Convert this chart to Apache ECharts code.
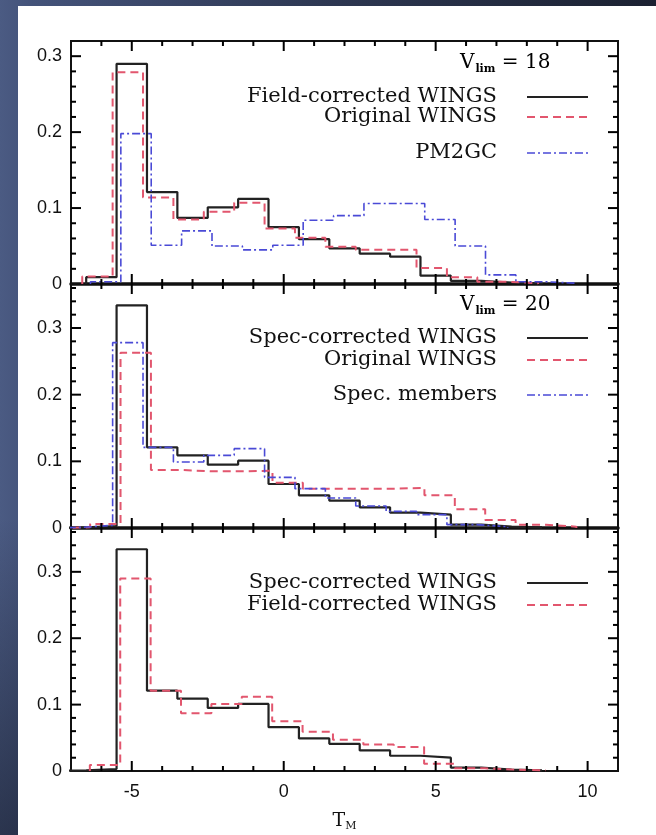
<!DOCTYPE html>
<html>
<head>
<meta charset="utf-8">
<script src="https://cdn.jsdelivr.net/npm/echarts@6/dist/echarts.min.js"></script>
<style>
  html, body { margin: 0; padding: 0; width: 656px; height: 835px; overflow: hidden; }
  body {
    background:
      linear-gradient(to bottom, rgba(0,0,0,0) 0%, rgba(0,0,0,0) 62%, rgba(16,21,34,0.55) 100%),
      linear-gradient(to right, #4b5b83 0px, #44537a 30px, #2e3853 320px, #1b2131 656px);
  }
  #sheet { position: absolute; left: 18px; top: 6px; right: 0; bottom: 0; background: #ffffff; }
  #chart { position: absolute; left: 0; top: 0; width: 656px; height: 835px; }
</style>
</head>
<body>
<div id="sheet"></div>
<div id="chart"></div>
<script>
// Morphological type T_M, one bin per integer type
const binCentres = [-7, -6, -5, -4, -3, -2, -1, 0, 1, 2, 3, 4, 5, 6, 7, 8, 9, 10];

// Fractions of galaxies per T_M bin
const fieldCorrected = [0, 0.009, 0.290, 0.121, 0.087, 0.101, 0.112, 0.075, 0.059, 0.047, 0.040, 0.036, 0.011, 0.004, 0.002, 0.001, 0, 0];
const originalV18    = [0, 0.010, 0.279, 0.114, 0.085, 0.095, 0.107, 0.073, 0.061, 0.049, 0.045, 0.045, 0.021, 0.009, 0.003, 0.001, 0, 0];
const pm2gc          = [0, 0.003, 0.198, 0.051, 0.070, 0.050, 0.045, 0.051, 0.084, 0.090, 0.106, 0.106, 0.085, 0.050, 0.012, 0.003, 0.001, 0];
const specCorrected  = [0.001, 0.003, 0.334, 0.121, 0.109, 0.095, 0.101, 0.066, 0.049, 0.041, 0.031, 0.023, 0.020, 0.005, 0.002, 0.001, 0, 0];
const originalV20    = [0.001, 0.006, 0.263, 0.087, 0.085, 0.085, 0.086, 0.068, 0.059, 0.059, 0.059, 0.060, 0.049, 0.028, 0.012, 0.005, 0.002, 0];
const specMembers    = [0.001, 0.004, 0.278, 0.121, 0.099, 0.109, 0.119, 0.076, 0.059, 0.045, 0.033, 0.025, 0.020, 0.005, 0.002, 0, 0, 0];

// Tick labels
const xTickLabels = [-5, 0, 5, 10];
const yTickLabels = [0, 0.1, 0.2, 0.3];
const vlimLabels = ['18', '20'];

// Minor tick positions
const xMinorTicks = [];
for (let t = -6; t <= 10; t++) if (t % 5 !== 0) xMinorTicks.push(t);
const yMinorTicks = [];
for (let k = 1; k <= 18; k++) if (k % 5 !== 0) yMinorTicks.push(+(k * 0.02).toFixed(2));

// Panel frames
const LEFT = 71, RIGHT = 38;
const XMIN = -7, XMAX = 11;
const panels = [
  { top: 41,  height: 243, ymax: 0.32 },
  { top: 284, height: 244, ymax: 0.366 },
  { top: 528, height: 243, ymax: 0.366 }
];

const INK = '#111';
const SANS = '"Liberation Sans", Arial, sans-serif';
const SERIF = '"DejaVu Serif", "Liberation Serif", serif';

const styles = {
  solid:   { color: '#222222', width: 2.2, type: 'solid' },
  dashed:  { color: '#e2566e', width: 2,   type: [8, 5] },
  dashdot: { color: '#4a4ad6', width: 1.6, type: [8, 3, 2, 3] }
};

// Histogram outline from per-bin values; 'shift' nudges a curve sideways so overlapping steps stay visible
function stepOutline(values, shift) {
  let first = values.findIndex(v => v > 0);
  let last = values.length - 1;
  while (last > first && !(values[last] > 0)) last--;
  const pts = [];
  for (let i = first; i <= last; i++) {
    const lo = binCentres[i] - 0.5 + shift, hi = lo + 1;
    if (i === first) pts.push([lo, 0]);
    pts.push([lo, values[i]]);
    pts.push([hi, values[i]]);
    if (i === last) pts.push([hi, 0]);
  }
  return pts;
}

const grid = [], xAxis = [], yAxis = [], series = [];

panels.forEach((p, gi) => {
  // the grid border is the panel frame
  grid.push({ left: LEFT, right: RIGHT, top: p.top, height: p.height, containLabel: false,
    show: true, borderColor: INK, borderWidth: 2 });
  const isLast = gi === panels.length - 1;
  xAxis.push({
    gridIndex: gi, type: 'value', min: XMIN, max: XMAX, position: 'bottom', splitLine: { show: false },
    // shared edges between stacked panels are drawn heavier
    axisLine: { show: !isLast, onZero: false, lineStyle: { color: INK, width: 3.5 } },
    axisTick: { show: false },
    axisLabel: { show: isLast, customValues: xTickLabels, margin: 12, color: INK, fontFamily: SANS, fontSize: 18 },
    name: isLast ? '{t|T}{s|M}' : '', nameLocation: 'middle', nameGap: 40,
    nameTextStyle: { rich: {
      t: { fontFamily: SERIF, fontSize: 19, color: INK },
      s: { fontFamily: SERIF, fontSize: 11, color: INK, padding: [10, 0, 0, 0] }
    } }
  });
  yAxis.push({
    gridIndex: gi, type: 'value', min: 0, max: p.ymax, position: 'left', splitLine: { show: false },
    axisLine: { show: false, onZero: false }, axisTick: { show: false },
    axisLabel: { show: true, customValues: yTickLabels, margin: 9, color: INK, fontFamily: SANS, fontSize: 18,
      formatter: v => (v === 0 ? '0' : (+v).toFixed(1)) }
  });
});

function addSeries(gi, name, values, style, shift) {
  series.push({
    type: 'line', name: name, xAxisIndex: gi, yAxisIndex: gi,
    data: stepOutline(values, shift), showSymbol: false, symbol: 'none', clip: true,
    silent: true,
    lineStyle: { color: style.color, width: style.width, type: style.type }
  });
}

// Panel 1: V_lim = 18
addSeries(0, 'Field-corrected WINGS', fieldCorrected, styles.solid, 0);
addSeries(0, 'Original WINGS', originalV18, styles.dashed, -0.13);
addSeries(0, 'PM2GC', pm2gc, styles.dashdot, 0.14);
// Panel 2: V_lim = 20
addSeries(1, 'Spec-corrected WINGS', specCorrected, styles.solid, 0);
addSeries(1, 'Original WINGS', originalV20, styles.dashed, 0.13);
addSeries(1, 'Spec. members', specMembers, styles.dashdot, -0.13);
// Panel 3: both corrections compared
addSeries(2, 'Spec-corrected WINGS', specCorrected, styles.solid, 0);
addSeries(2, 'Field-corrected WINGS', fieldCorrected, styles.dashed, 0.12);

// Key entries drawn inside each panel
const TEXT_RIGHT = 497, KEY_X1 = 527, KEY_X2 = 588;
const keys = [
  { y: 97,  label: 'Field-corrected WINGS', style: styles.solid },
  { y: 117, label: 'Original WINGS',        style: styles.dashed },
  { y: 153, label: 'PM2GC',                 style: styles.dashdot },
  { y: 338, label: 'Spec-corrected WINGS',  style: styles.solid },
  { y: 360, label: 'Original WINGS',        style: styles.dashed },
  { y: 395, label: 'Spec. members',         style: styles.dashdot },
  { y: 583, label: 'Spec-corrected WINGS',  style: styles.solid },
  { y: 605, label: 'Field-corrected WINGS', style: styles.dashed }
];
const elements = [];
keys.forEach(k => {
  elements.push({
    type: 'text', x: TEXT_RIGHT, y: k.y, silent: true,
    style: { text: k.label, font: '21px ' + SERIF, fill: INK, textAlign: 'right', textVerticalAlign: 'middle' }
  });
  elements.push({
    type: 'line', silent: true,
    shape: { x1: KEY_X1, y1: k.y, x2: KEY_X2, y2: k.y },
    style: { stroke: k.style.color, lineWidth: k.style.width, lineDash: k.style.type === 'solid' ? null : k.style.type }
  });
});
[63, 305].forEach((y, i) => {
  elements.push({
    type: 'text', x: 460, y: y, silent: true,
    style: {
      text: '{v|V}{s|lim}{e| = ' + vlimLabels[i] + '}',
      textVerticalAlign: 'middle',
      rich: {
        v: { fontFamily: SERIF, fontSize: 20, color: INK },
        s: { fontFamily: SERIF, fontSize: 11, fontWeight: 'bold', color: INK, padding: [12, 0, 0, 1] },
        e: { fontFamily: SERIF, fontSize: 20, color: INK }
      }
    }
  });
});

const chart = echarts.init(document.getElementById('chart'), null, { renderer: 'canvas' });
chart.setOption({
  animation: false,
  grid: grid, xAxis: xAxis, yAxis: yAxis, series: series
});

// Inward tick marks on all four sides of every panel, positioned through each panel's axes
panels.forEach((p, gi) => {
  const toPx = pt => chart.convertToPixel({ gridIndex: gi }, pt);
  const seg = (pt, dx, dy) => {
    const a = toPx(pt);
    elements.push({
      type: 'line', silent: true, z: 50,
      shape: { x1: a[0], y1: a[1], x2: a[0] + dx, y2: a[1] + dy },
      style: { stroke: '#000', lineWidth: 2 }
    });
  };
  xTickLabels.forEach(v => { seg([v, 0], 0, -10); seg([v, p.ymax], 0, 10); });
  xMinorTicks.forEach(v => { seg([v, 0], 0, -5); seg([v, p.ymax], 0, 5); });
  yTickLabels.filter(v => v > 0).forEach(v => { seg([XMIN, v], 10, 0); seg([XMAX, v], -10, 0); });
  yMinorTicks.filter(v => v < p.ymax).forEach(v => { seg([XMIN, v], 5, 0); seg([XMAX, v], -5, 0); });
});

chart.setOption({ graphic: { elements: elements } });
</script>
</body>
</html>
